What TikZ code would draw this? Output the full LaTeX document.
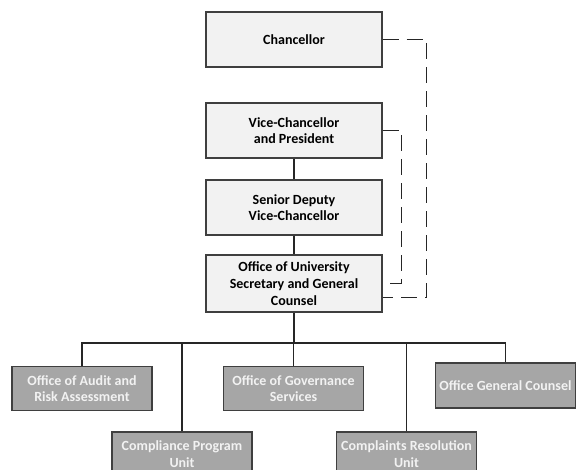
\documentclass[tikz,border=0pt]{standalone}
\usepackage{fontspec}
\setmainfont{Carlito}
\definecolor{boxline}{HTML}{3F3F3F}
\definecolor{topfill}{HTML}{F2F2F2}
\definecolor{unitfill}{HTML}{A6A6A6}
\definecolor{unittext}{HTML}{F2F2F2}
\definecolor{wire}{HTML}{262626}
\begin{document}
\begin{tikzpicture}[
        x=0.75pt, y=-0.75pt,
        every node/.style={font=\bfseries\fontsize{10.5}{12.5}\selectfont, align=center, inner sep=0pt},
        topbox/.style={draw=boxline, line width=1pt, fill=topfill, text=black, minimum width=132pt, minimum height=41.25pt},
        unitbox/.style={draw=boxline, line width=1pt, fill=unitfill, text=unittext, minimum width=105pt, minimum height=33pt},
        link/.style={draw=wire, line width=0.8pt},
        dotted link/.style={draw=wire, line width=0.8pt, dash pattern=on 12pt off 6pt},
    ]
    \useasboundingbox (0,0) rectangle (576,470);
    \clip (0,0) rectangle (576,470);
    \node[topbox] (chancellor) at (294,39.5) {Chancellor};
    \node[topbox] (vc) at (294,130.5) {Vice-Chancellor\\and President};
    \node[topbox] (sdvc) at (294,207.5) {Senior Deputy\\Vice-Chancellor};
    \node[topbox, minimum height=42.75pt] (secretary) at (294,283.5) {Office of University\\Secretary and General\\Counsel};
    \node[unitbox] (audit) at (82,388.5) {Office of Audit and\\Risk Assessment};
    \node[unitbox] (compliance) at (182,454) {Compliance Program\\Unit};
    \node[unitbox] (governance) at (293.5,388.5) {Office of Governance\\Services};
    \node[unitbox] (complaints) at (406.5,454) {Complaints Resolution\\Unit};
    \node[unitbox, minimum height=33.75pt] (counsel) at (505.5,385.5) {Office General Counsel};
    \coordinate (bus) at (294,343);
    \draw[link] (vc) -- (sdvc);
    \draw[link] (sdvc) -- (secretary);
    \draw[link] (secretary) -- (bus);
    \draw[link] (audit.north) |- (bus) -| (counsel.north);
    \draw[link] (compliance.north) -- (compliance.north |- bus);
    \draw[link] (governance.north) -- (governance.north |- bus);
    \draw[link] (complaints.north) -- (complaints.north |- bus);
    \draw[dotted link] (chancellor.east) -- ++(44,0) |- ([yshift=-10.5pt]secretary.east);
    \draw[dotted link] (vc.east) -- ++(19,0) |- (secretary.east);
\end{tikzpicture}
\end{document}
